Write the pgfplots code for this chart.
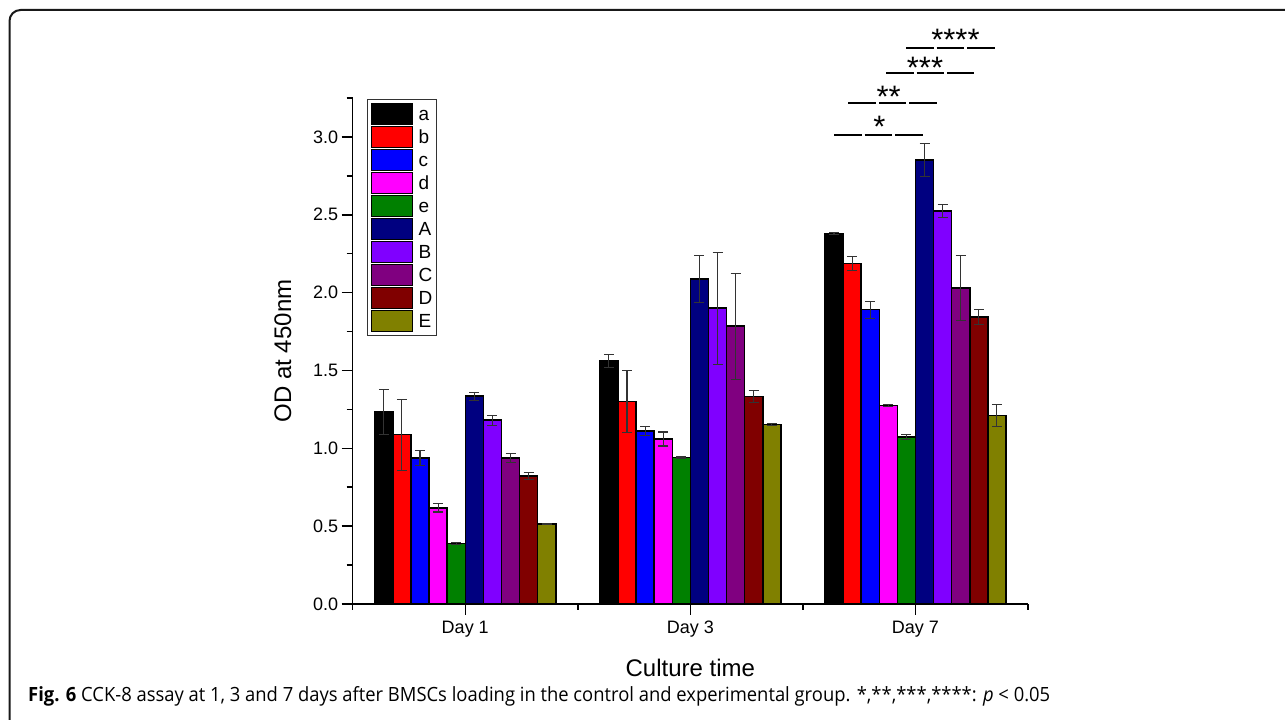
\documentclass[border=0pt]{standalone}
\usepackage{fontspec}
\setmainfont{Liberation Sans}
\newfontfamily\capfont{Open Sans}
\usepackage{pgfplots}
\pgfplotsset{compat=1.18}
\definecolor{ca}{RGB}{0,0,0}
\definecolor{cb}{RGB}{255,0,0}
\definecolor{cc}{RGB}{0,0,255}
\definecolor{cd}{RGB}{255,0,255}
\definecolor{ce}{RGB}{0,128,0}
\definecolor{cA}{RGB}{0,0,128}
\definecolor{cB}{RGB}{128,0,255}
\definecolor{cC}{RGB}{128,0,128}
\definecolor{cD}{RGB}{128,0,0}
\definecolor{cE}{RGB}{128,128,0}
\pgfplotsset{
  bl/.style={legend image code/.code={\draw[##1, draw=black, line width=1.2bp] (0bp,-10.5bp) rectangle (41bp,10.5bp);}},
  eb/.style={error bars/y dir=both, error bars/y explicit,
    error bars/error bar style={line width=1.1bp, black!80},
    error bars/error mark options={rotate=90, mark size=5bp, line width=1.1bp, black!80}},
  bs/.style={fill=#1, draw=black, line width=1.5bp, bl, eb},
}
\begin{document}
\begin{tikzpicture}[x=1bp,y=1bp]
\useasboundingbox (0,0) rectangle (1285,720);
\draw[line width=2bp, rounded corners=11bp, color=black!90] (1300,710) -- (9.5,710) -- (9.5,-10) -- (1300,-10);
\begin{axis}[
  at={(352.7bp,116bp)}, anchor=south west,
  scale only axis, width=675.3bp, height=506bp,
  xmin=0.5, xmax=3.5, ymin=0, ymax=3.25,
  axis lines=left, axis line style={-, line width=1.5bp},
  ybar=0pt, bar width=18.1bp,
  xtick={1,2,3}, xticklabels={Day 1,Day 3,Day 7},
  minor xtick={0.5,1.5,2.5,3.5},
  ytick={0,0.5,1.0,1.5,2.0,2.5,3.0},
  minor ytick={0.25,0.75,1.25,1.75,2.25,2.75,3.25},
  tick align=outside, major tick length=11bp, minor tick length=6bp,
  tick style={black, line width=1.5bp},
  y tick label style={/pgf/number format/fixed, /pgf/number format/fixed zerofill, /pgf/number format/precision=1},
  x tick label style={yshift=-2.5bp},
  /pgf/number format/assume math mode=true,
  tick label style={font=\fontsize{18bp}{21bp}\selectfont},
  legend cell align=left,
  legend style={at={(0.0212,0.998)}, anchor=north west, draw=black!80, line width=1bp,
    font=\fontsize{19bp}{22bp}\selectfont, inner xsep=3bp, inner ysep=3.5bp,
    row sep=0.8bp, nodes={inner sep=1bp, text height=13.6bp, text depth=0bp},
    /tikz/every odd column/.append style={column sep=5bp}},
]
\addplot[bs=ca] coordinates {(1,1.233) +- (0,0.145) (2,1.56) +- (0,0.04) (3,2.381) +- (0,0.005)};
\addplot[bs=cb] coordinates {(1,1.088) +- (0,0.228) (2,1.30) +- (0,0.20) (3,2.188) +- (0,0.045)};
\addplot[bs=cc] coordinates {(1,0.938) +- (0,0.047) (2,1.11) +- (0,0.03) (3,1.89) +- (0,0.055)};
\addplot[bs=cd] coordinates {(1,0.617) +- (0,0.026) (2,1.06) +- (0,0.045) (3,1.276) +- (0,0.006)};
\addplot[bs=ce] coordinates {(1,0.389) +- (0,0.004) (2,0.94) +- (0,0.004) (3,1.073) +- (0,0.015)};
\addplot[bs=cA] coordinates {(1,1.335) +- (0,0.026) (2,2.087) +- (0,0.15) (3,2.852) +- (0,0.107)};
\addplot[bs=cB] coordinates {(1,1.181) +- (0,0.032) (2,1.90) +- (0,0.36) (3,2.524) +- (0,0.04)};
\addplot[bs=cC] coordinates {(1,0.938) +- (0,0.028) (2,1.784) +- (0,0.34) (3,2.028) +- (0,0.21)};
\addplot[bs=cD] coordinates {(1,0.822) +- (0,0.022) (2,1.334) +- (0,0.04) (3,1.843) +- (0,0.047)};
\addplot[bs=cE] coordinates {(1,0.515) +- (0,0.004) (2,1.154) +- (0,0.005) (3,1.212) +- (0,0.07)};
\legend{a,b,c,d,e,A,B,C,D,E}
\end{axis}
% significance annotations
\begin{scope}[line width=2bp, dash pattern=on 27.6bp off 2.9bp]
\draw (834,585) -- (922.7,585);
\draw (848.3,617.3) -- (936.7,617.3);
\draw (886,647.3) -- (974.3,647.3);
\draw (906,671.7) -- (995,671.7);
\end{scope}
\begin{scope}[every node/.style={font=\fontsize{31bp}{34bp}\selectfont, inner sep=0, anchor=base}]
\node at (879.3,582.5) {*};
\node at (888.7,612.5) {**};
\node at (925,641.8) {***};
\node at (955.5,669.2) {****};
\end{scope}
\node[font=\fontsize{24bp}{28bp}\selectfont, anchor=base, inner sep=0] at (690.3,43.3) {Culture time};
\node[font=\fontsize{24bp}{28bp}\selectfont, anchor=base, rotate=90, inner sep=0] at (291,369) {OD at 450nm};
\node[anchor=base west, inner sep=0] at (28,18.3) {\resizebox{1022bp}{15bp}{\capfont\fontsize{20bp}{24bp}\selectfont\textbf{Fig. 6} CCK-8 assay at 1, 3 and 7 days after BMSCs loading in the control and experimental group. *,**,***,****: \textit{p} \textless{} 0.05}};
\end{tikzpicture}
\end{document}
